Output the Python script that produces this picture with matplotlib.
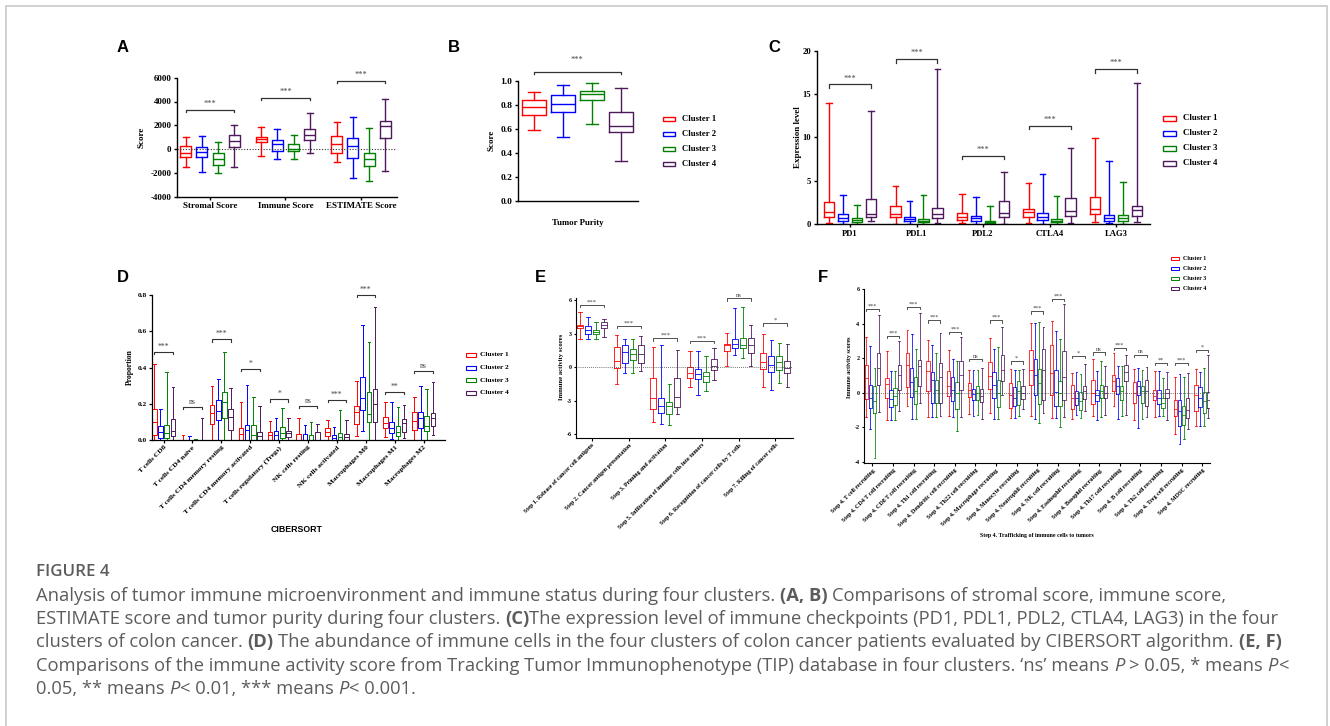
import matplotlib
matplotlib.use("Agg")
import matplotlib.pyplot as plt
from matplotlib.patches import Rectangle
from matplotlib.ticker import FormatStrFormatter

plt.rcParams["axes.unicode_minus"] = False

W, H = 1330, 726

clusters = ["Cluster 1", "Cluster 2", "Cluster 3", "Cluster 4"]
colors = ["#ff0000", "#0000ff", "#008000", "#4e1a5c"]

# each box: [whisker low, q1, median, q3, whisker high], four clusters per category
a_cats = ["Stromal Score", "Immune Score", "ESTIMATE Score"]
a_stats = [
    [[-1500, -700, -300, 300, 1000], [-1900, -700, -250, 200, 1100],
     [-2000, -1300, -800, -350, 600], [-1500, 200, 650, 1200, 2000]],
    [[-550, 600, 850, 1050, 1850], [-800, -150, 400, 800, 1700],
     [-850, -200, 50, 400, 1200], [-300, 800, 1150, 1700, 3000]],
    [[-1100, -300, 450, 1100, 2300], [-2400, -750, 250, 900, 2700],
     [-2650, -1400, -850, -300, 1800], [-1800, 900, 1950, 2400, 4250]],
]
a_sig = ["***", "***", "***"]
a_sig_y = [3300, 4300, 5700]

b_cats = ["Tumor Purity"]
b_stats = [
    [[0.59, 0.72, 0.785, 0.845, 0.905], [0.535, 0.74, 0.805, 0.88, 0.97],
     [0.64, 0.845, 0.89, 0.92, 0.98], [0.33, 0.575, 0.625, 0.745, 0.945]],
]
b_sig = ["***"]
b_sig_y = [1.072]

c_cats = ["PD1", "PDL1", "PDL2", "CTLA4", "LAG3"]
c_stats = [
    [[0.15, 0.85, 1.4, 2.5, 14.0], [0.05, 0.4, 0.75, 1.2, 3.4],
     [0.05, 0.27, 0.45, 0.7, 2.2], [0.3, 0.77, 1.1, 2.85, 13.0]],
    [[0.05, 0.85, 1.2, 2.1, 4.4], [0.05, 0.3, 0.55, 0.8, 2.6],
     [0.05, 0.23, 0.4, 0.6, 3.4], [0.08, 0.65, 1.2, 1.8, 17.9]],
    [[0.1, 0.45, 0.8, 1.3, 3.5], [0.05, 0.35, 0.65, 0.95, 3.15],
     [0.03, 0.15, 0.27, 0.4, 2.05], [0.05, 0.77, 1.3, 2.7, 6.0]],
    [[0.15, 0.8, 1.35, 1.7, 4.7], [0.05, 0.45, 0.77, 1.27, 5.75],
     [0.05, 0.2, 0.4, 0.6, 3.2], [0.15, 0.9, 1.5, 2.95, 8.8]],
    [[0.2, 1.1, 1.75, 3.15, 9.9], [0.08, 0.38, 0.65, 1.0, 7.3],
     [0.05, 0.38, 0.65, 1.05, 4.8], [0.2, 0.95, 1.6, 2.1, 16.3]],
]
c_sig = ["***", "***", "***", "***", "***"]
c_sig_y = [16.1, 19.0, 7.9, 11.35, 17.85]

d_cats = ["T cells CD8", "T cells CD4 naive", "T cells CD4 memory resting",
          "T cells CD4 memory activated", "T cells regulatory (Tregs)",
          "NK cells resting", "NK cells activated", "Macrophages M0",
          "Macrophages M1", "Macrophages M2"]
d_stats = [
    [[0, 0.03, 0.1, 0.17, 0.42], [0, 0.01, 0.045, 0.075, 0.17],
     [0, 0.01, 0.04, 0.085, 0.375], [0, 0.02, 0.05, 0.115, 0.295]],
    [[0, 0, 0, 0, 0.025], [0, 0, 0, 0, 0.02], [0, 0, 0, 0, 0.005], [0, 0, 0, 0, 0.12]],
    [[0, 0.087, 0.15, 0.195, 0.30], [0, 0.11, 0.16, 0.22, 0.335],
     [0, 0.12, 0.21, 0.265, 0.485], [0, 0.055, 0.125, 0.17, 0.285]],
    [[0, 0, 0.035, 0.068, 0.21], [0, 0, 0.055, 0.085, 0.305],
     [0, 0, 0.03, 0.082, 0.235], [0, 0, 0.02, 0.045, 0.19]],
    [[0, 0, 0.028, 0.046, 0.107], [0, 0, 0.03, 0.05, 0.123],
     [0, 0.013, 0.04, 0.074, 0.175], [0, 0.018, 0.04, 0.052, 0.123]],
    [[0, 0, 0, 0.031, 0.12], [0, 0, 0, 0.031, 0.082],
     [0, 0, 0, 0.025, 0.1], [0, 0, 0, 0.042, 0.088]],
    [[0, 0.022, 0.046, 0.064, 0.112], [0, 0, 0.013, 0.028, 0.07],
     [0, 0, 0.018, 0.04, 0.168], [0, 0, 0.015, 0.031, 0.113]],
    [[0.02, 0.087, 0.153, 0.19, 0.325], [0.05, 0.165, 0.23, 0.35, 0.635],
     [0, 0.1, 0.145, 0.263, 0.54], [0, 0.1, 0.2, 0.28, 0.733]],
    [[0.015, 0.064, 0.092, 0.128, 0.21], [0.005, 0.037, 0.068, 0.1, 0.21],
     [0, 0.024, 0.046, 0.079, 0.184], [0.01, 0.046, 0.092, 0.114, 0.193]],
    [[0, 0.055, 0.105, 0.156, 0.24], [0, 0.068, 0.12, 0.153, 0.298],
     [0, 0.05, 0.08, 0.132, 0.28], [0.025, 0.077, 0.12, 0.147, 0.318]],
]
d_sig = ["***", "ns", "***", "*", "*", "ns", "***", "***", "**", "ns"]
d_sig_y = [0.487, 0.184, 0.555, 0.392, 0.224, 0.187, 0.22, 0.8, 0.267, 0.38]

e_cats = ["Step 1. Release of cancer cell antigens", "Step 2. Cancer antigen presentation",
          "Step 3. Priming and activation", "Step 5. Infiltration of immune cells into tumors",
          "Step 6. Recognition of cancer cells by T cells", "Step 7. Killing of cancer cells"]
e_stats = [
    [[2.55, 3.45, 3.65, 3.8, 4.9], [2.5, 3.0, 3.3, 3.7, 4.45],
     [2.55, 2.95, 3.15, 3.35, 4.05], [2.7, 3.5, 3.8, 4.05, 4.3]],
    [[-1.55, -0.12, 0.5, 1.8, 2.9], [-0.55, 0.33, 1.35, 2.0, 2.5],
     [-0.55, 0.63, 1.15, 1.65, 2.55], [-0.35, 0.33, 1.15, 2.0, 2.8]],
    [[-4.9, -3.75, -2.8, -1.0, 1.8], [-5.1, -4.15, -3.45, -2.8, 1.95],
     [-5.2, -4.25, -3.45, -3.15, -1.55], [-4.25, -3.6, -2.65, -1.0, 1.5]],
    [[-1.8, -0.95, -0.5, 0.0, 1.45], [-2.55, -1.07, -0.63, -0.2, 1.45],
     [-2.15, -1.3, -0.78, -0.42, 1.0], [-1.15, -0.27, 0.08, 0.7, 1.73]],
    [[0.12, 1.45, 1.95, 2.1, 3.05], [1.05, 1.73, 2.1, 2.48, 5.3],
     [0.78, 1.67, 2.0, 2.6, 5.4], [0.09, 1.3, 1.97, 2.63, 3.75]],
    [[-1.75, -0.2, 0.42, 1.22, 2.95], [-2.05, -0.48, 0.18, 1.0, 2.4],
     [-1.45, -0.27, 0.48, 1.0, 2.17], [-1.75, -0.57, -0.12, 0.54, 2.1]],
]
e_sig = ["***", "***", "***", "***", "ns", "*"]
e_sig_y = [5.55, 3.67, 2.57, 2.33, 6.15, 3.9]

f_cats = ["Step 4. T cell recruiting", "Step 4. CD4 T cell recruiting",
          "Step 4. CD8 T cell recruiting", "Step 4. Th1 cell recruiting",
          "Step 4. Dendritic cell recruiting", "Step 4. Th22 cell recruiting",
          "Step 4. Macrophage recruiting", "Step 4. Monocyte recruiting",
          "Step 4. Neutrophil recruiting", "Step 4. NK cell recruiting",
          "Step 4. Eosinophil recruiting", "Step 4. Basophil recruiting",
          "Step 4. Th17 cell recruiting", "Step 4. B cell recruiting",
          "Step 4. Th2 cell recruiting", "Step 4. Treg cell recruiting",
          "Step 4. MDSC recruiting"]
f_stats = [
    [[-1.4, -0.37, 0.85, 1.6, 3.2], [-2.08, -0.9, -0.3, 0.46, 2.68],
     [-3.78, -1.18, -0.5, 0.37, 1.43], [-1.12, 0.46, 1.43, 2.3, 4.5]],
    [[-1.56, -0.3, 0.5, 0.88, 2.43], [-1.56, -0.8, -0.37, 0.17, 1.27],
     [-1.56, -0.73, -0.2, 0.27, 1.27], [-1.08, 0.17, 1.04, 1.62, 3.0]],
    [[-0.79, 0.33, 1.6, 2.29, 3.64], [-1.52, -0.27, 0.6, 1.46, 3.41],
     [-1.52, -0.66, 0.08, 0.89, 2.52], [-0.6, 0.37, 1.52, 1.9, 4.6]],
    [[-1.43, 0.08, 1.23, 1.81, 3.03], [-1.43, -0.6, 0.75, 1.19, 2.77],
     [-1.41, -0.6, 0.17, 0.75, 2.29], [-1.37, -0.6, 0.89, 1.71, 3.45]],
    [[-1.33, -0.21, 0.37, 1.23, 2.45], [-1.41, -0.5, 0.17, 0.89, 1.97],
     [-2.2, -0.92, 0.0, 0.6, 1.81], [-1.41, 0.17, 1.04, 1.85, 3.22]],
    [[-1.23, -0.25, 0.17, 0.56, 1.33], [-1.37, -0.44, -0.06, 0.21, 1.33],
     [-1.31, -0.44, 0.0, 0.37, 1.33], [-1.52, -0.54, -0.2, 0.21, 1.43]],
    [[-1.18, 0.21, 0.94, 1.75, 3.16], [-1.52, -0.31, 0.46, 1.19, 2.52],
     [-1.52, -0.83, 0.0, 0.71, 2.64], [-0.12, 0.69, 1.33, 2.2, 3.83]],
    [[-1.46, -0.89, -0.12, 0.56, 1.37], [-1.46, -0.79, -0.31, 0.31, 1.33],
     [-1.37, -0.69, 0.12, 0.69, 1.33], [-0.92, -0.37, 0.0, 0.4, 1.37]],
    [[-1.33, 0.46, 1.33, 2.45, 4.03], [-1.52, -0.12, 1.04, 1.97, 4.03],
     [-1.75, -0.64, 0.56, 1.37, 4.12], [-1.18, -0.44, 1.33, 2.52, 3.83]],
    [[-1.46, -0.12, 1.14, 2.77, 4.16], [-1.46, -0.79, 0.04, 1.29, 3.58],
     [-1.98, -0.79, 0.0, 0.69, 3.1], [-1.41, -0.44, 0.9, 2.39, 5.14]],
    [[-1.52, -0.92, -0.3, 0.46, 1.14], [-1.31, -0.69, -0.3, 0.08, 1.18],
     [-1.46, -1.02, -0.5, 0.04, 1.08], [-1.08, -0.37, 0.08, 0.37, 1.66]],
    [[-1.37, -0.64, 0.0, 0.71, 1.97], [-1.56, -0.5, -0.15, 0.17, 1.23],
     [-1.43, -0.31, 0.12, 0.46, 1.81], [-1.31, -0.31, 0.0, 0.37, 1.56]],
    [[-0.79, 0.12, 0.66, 1.04, 2.29], [-1.52, -0.08, 0.37, 0.85, 1.52],
     [-1.37, -0.44, 0.08, 0.4, 1.56], [-1.27, 0.66, 1.19, 1.62, 2.2]],
    [[-1.6, -0.6, 0.0, 0.62, 1.39], [-2.04, -0.12, 0.4, 0.69, 1.43],
     [-1.52, -0.6, 0.08, 0.4, 1.33], [-1.43, -0.79, 0.08, 0.71, 1.48]],
    [[-1.41, -0.44, -0.2, 0.17, 1.27], [-1.37, -0.64, -0.3, 0.17, 1.23],
     [-1.37, -0.89, -0.6, -0.3, 0.85], [-1.6, -0.31, 0.0, 0.21, 1.18]],
    [[-2.39, -1.37, -0.94, -0.44, 0.9], [-2.97, -1.95, -1.04, -0.44, 1.1],
     [-2.66, -1.85, -1.27, -0.79, 0.9], [-2.08, -1.46, -0.98, -0.31, 1.14]],
    [[-1.91, -1.08, -0.12, 0.42, 1.37], [-1.91, -0.85, -0.3, 0.31, 1.19],
     [-1.91, -1.18, -0.5, 0.04, 1.43], [-1.46, -0.89, -0.4, 0.04, 2.2]],
]
f_sig = ["***", "***", "***", "***", "***", "ns", "***", "*", "***", "***",
         "*", "ns", "***", "ns", "**", "***", "*"]
f_sig_y = [4.84, 3.26, 4.95, 4.18, 3.51, 1.95, 4.18, 1.81, 4.7, 5.41,
           2.14, 2.33, 2.58, 2.2, 1.71, 1.71, 2.45]

caption_lines = [
    [("Analysis of tumor immune microenvironment and immune status during four clusters. ", "n"),
     ("(A, B)", "b"), (" Comparisons of stromal score, immune score,", "n")],
    [("ESTIMATE score and tumor purity during four clusters. ", "n"), ("(C)", "b"),
     ("The expression level of immune checkpoints (PD1, PDL1, PDL2, CTLA4, LAG3) in the four", "n")],
    [("clusters of colon cancer. ", "n"), ("(D)", "b"),
     (" The abundance of immune cells in the four clusters of colon cancer patients evaluated by CIBERSORT algorithm. ", "n"),
     ("(E, F)", "b")],
    [("Comparisons of the immune activity score from Tracking Tumor Immunophenotype (TIP) database in four clusters. \u2018ns\u2019 means ", "n"),
     ("P", "i"), (" > 0.05, * means ", "n"), ("P", "i"), ("<", "n")],
    [("0.05, ** means ", "n"), ("P", "i"), ("< 0.01, *** means ", "n"), ("P", "i"), ("< 0.001.", "n")],
]

SERIF = "Liberation Serif"
SANS = "Liberation Sans"

fig = plt.figure(figsize=(W / 100, H / 100), dpi=100)
fig.patch.set_facecolor("white")


def px_axes(x0, y0, x1, y1):
    return fig.add_axes([x0 / W, 1 - y1 / H, (x1 - x0) / W, (y1 - y0) / H])


def style_axes(ax, fs, lw, tl):
    for s in ["top", "right"]:
        ax.spines[s].set_visible(False)
    for s in ["left", "bottom"]:
        ax.spines[s].set_linewidth(lw)
    ax.tick_params(direction="out", length=tl, width=lw, labelsize=fs, pad=1.5)
    for lab in ax.get_yticklabels() + ax.get_xticklabels():
        lab.set_fontfamily(SERIF)
        lab.set_fontweight("bold")


def draw_boxes(ax, stats, step, width, lw, capw=0.55):
    for i, group in enumerate(stats):
        for j, s in enumerate(group):
            d = dict(whislo=s[0], q1=s[1], med=s[2], q3=s[3], whishi=s[4], fliers=[])
            p = dict(color=colors[j], linewidth=lw)
            ax.bxp([d], positions=[i + (j - 1.5) * step], widths=width,
                   capwidths=width * capw, showfliers=False, manage_ticks=False,
                   boxprops=p, whiskerprops=p, capprops=p, medianprops=p)


def brackets(ax, sigs, ys, step, tick, fs, lw, pad):
    for i, (lab, y) in enumerate(zip(sigs, ys)):
        x0, x1 = i - 1.5 * step, i + 1.5 * step
        ax.plot([x0, x0, x1, x1], [y - tick, y, y, y - tick], color="#333333",
                lw=lw, clip_on=False)
        ax.annotate(lab, xy=(i, y), xytext=(0, pad), textcoords="offset points",
                    ha="center", va="bottom", fontsize=fs, color="#444444",
                    family=SERIF, annotation_clip=False)


def legend(x, y, dy, rw, rh, gap, fs, lw):
    for j in range(4):
        yy = y + j * dy
        fig.add_artist(Rectangle((x / W, 1 - (yy + rh / 2) / H), rw / W, rh / H,
                                 transform=fig.transFigure, fill=False,
                                 ec=colors[j], lw=lw))
        fig.text((x + rw + gap) / W, 1 - yy / H, clusters[j], fontsize=fs,
                 family=SERIF, weight="bold", va="center", ha="left")


def ftext(x, y, s, **kw):
    return fig.text(x / W, 1 - y / H, s, **kw)


# ---------- A ----------
axA = px_axes(177, 77.7, 397, 196.7)
draw_boxes(axA, a_stats, 0.215, 0.146, 1.0)
axA.set_xlim(-0.437, 2.477)
axA.set_ylim(-4000, 6000)
axA.set_yticks(range(-4000, 6001, 2000))
axA.set_xticks(range(len(a_cats)))
axA.set_xticklabels(a_cats)
axA.axhline(0, color="#333333", lw=0.8, ls=(0, (1, 1.5)))
style_axes(axA, 6.5, 1.0, 2.5)
brackets(axA, a_sig, a_sig_y, 0.215, 150, 6, 0.9, 1.5)
ftext(142, 137, "Score", rotation=90, ha="center", va="center", fontsize=6.5,
      family=SERIF, weight="bold")

# ---------- B ----------
axB = px_axes(517.7, 81, 638, 200.7)
draw_boxes(axB, b_stats, 1.0, 0.85, 1.0, capw=0.5)
axB.set_xlim(-2.06, 2.09)
axB.set_ylim(0, 1.0)
axB.set_yticks([0, 0.2, 0.4, 0.6, 0.8, 1.0])
axB.yaxis.set_major_formatter(FormatStrFormatter("%.1f"))
axB.set_xticks([])
style_axes(axB, 6.8, 1.0, 2.5)
brackets(axB, b_sig, b_sig_y, 1.0, 0.015, 6, 0.9, 6)
ftext(578, 223, b_cats[0], ha="center", va="center", fontsize=6.3, family=SERIF,
      weight="bold")
ftext(492, 140, "Score", rotation=90, ha="center", va="center", fontsize=6.5,
      family=SERIF, weight="bold")
legend(663, 119, 15, 12, 4.5, 7, 6.3, 1.0)

# ---------- C ----------
axC = px_axes(817, 50.7, 1150, 224)
draw_boxes(axC, c_stats, 0.21, 0.158, 1.0)
axC.set_xlim(-0.496, 4.51)
axC.set_ylim(0, 20)
axC.set_yticks([0, 5, 10, 15, 20])
axC.set_xticks(range(len(c_cats)))
axC.set_xticklabels(c_cats)
style_axes(axC, 6.2, 1.0, 2.5)
brackets(axC, c_sig, c_sig_y, 0.21, 0.4, 6, 0.9, 1.5)
ftext(798, 137, "Expression level", rotation=90, ha="center", va="center",
      fontsize=6.5, family=SERIF, weight="bold")
legend(1163, 118.3, 15, 12.5, 4.5, 7.5, 6.4, 1.0)

# ---------- D ----------
axD = px_axes(152, 295, 445, 440)
draw_boxes(axD, d_stats, 0.215, 0.16, 0.7)
axD.set_xlim(-0.4, 9.74)
axD.set_ylim(0, 0.8)
axD.set_yticks([0, 0.2, 0.4, 0.6, 0.8])
axD.yaxis.set_major_formatter(FormatStrFormatter("%.1f"))
axD.set_xticks(range(len(d_cats)))
axD.set_xticklabels(d_cats, rotation=45, ha="right", rotation_mode="anchor")
style_axes(axD, 5.3, 0.9, 2.0)
brackets(axD, d_sig, d_sig_y, 0.215, 0.012, 5.5, 0.8, 0.8)
ftext(130, 367, "Proportion", rotation=90, ha="center", va="center", fontsize=5.5,
      family=SERIF, weight="bold")
ftext(297, 530, "CIBERSORT", ha="center", va="center", fontsize=6.3, family=SANS,
      weight="bold")
legend(466, 355, 12.6, 10, 4.2, 4.5, 5.3, 0.8)

# ---------- E ----------
axE = px_axes(576, 297.8, 793, 437.9)
draw_boxes(axE, e_stats, 0.218, 0.16, 0.6)
axE.set_xlim(-0.436, 5.48)
axE.set_ylim(-6.35, 6.2)
axE.set_yticks([-6, -3, 0, 3, 6])
axE.set_xticks(range(len(e_cats)))
axE.set_xticklabels(e_cats, rotation=45, ha="right", rotation_mode="anchor")
axE.axhline(0, color="#444444", lw=0.6, ls=(0, (1, 1.5)))
style_axes(axE, 4.3, 0.8, 1.8)
brackets(axE, e_sig, e_sig_y, 0.218, 0.2, 4.8, 0.6, 0.5)
ftext(562, 367, "Immune activity scores", rotation=90, ha="center", va="center",
      fontsize=4.8, family=SERIF, weight="bold")

# ---------- F ----------
axF = px_axes(864, 289, 1210, 463.3)
draw_boxes(axF, f_stats, 0.2, 0.16, 0.55)
axF.set_xlim(-0.41, 16.38)
axF.set_ylim(-4.08, 6.0)
axF.set_yticks([-4, -2, 0, 2, 4, 6])
axF.set_xticks(range(len(f_cats)))
axF.set_xticklabels(f_cats, rotation=45, ha="right", rotation_mode="anchor")
axF.axhline(0, color="#444444", lw=0.6, ls=(0, (1, 1.5)))
style_axes(axF, 4.3, 0.8, 1.8)
brackets(axF, f_sig, f_sig_y, 0.2, 0.12, 4.5, 0.6, 0.3)
ftext(849, 367, "Immune activity scores", rotation=90, ha="center", va="center",
      fontsize=4.4, family=SERIF, weight="bold")
ftext(1037, 536, "Step 4. Trafficking of immune cells to tumors", ha="center",
      va="center", fontsize=4.2, family=SERIF, weight="bold")
legend(1171, 258.3, 10, 7.5, 3.5, 4.5, 4.3, 0.7)

# ---------- panel letters ----------
for lab, x, y in [("A", 117, 48), ("B", 448, 48), ("C", 768, 48),
                  ("D", 117, 277), ("E", 535, 277), ("F", 818, 277)]:
    ftext(x, y, lab, fontsize=12, family=SANS, weight="bold", ha="left", va="center")

# ---------- frame ----------
fig.add_artist(Rectangle((6 / W, -0.1), 1321 / W, 1 - 6 / H + 0.1,
                         transform=fig.transFigure, fill=False, ec="#c8c8c8", lw=1.2))

# ---------- caption ----------
CAP = "Open Sans"
cap_color = "#5c5c5c"
renderer = fig.canvas.get_renderer()


def seg_props(st, fs):
    return dict(fontsize=fs, family=CAP, color=cap_color,
                weight="bold" if st == "b" else "normal",
                style="italic" if st == "i" else "normal")


def space_w(fs):
    t1 = fig.text(0, 0, "x x", **seg_props("n", fs))
    t2 = fig.text(0, 0, "xx", **seg_props("n", fs))
    w = t1.get_window_extent(renderer).width - t2.get_window_extent(renderer).width
    t1.remove()
    t2.remove()
    return w


def draw_line(x, y, segs, fs, sw, draw=True):
    for txt, st in segs:
        lead = len(txt) - len(txt.lstrip(" "))
        trail = len(txt) - len(txt.rstrip(" "))
        core = txt.strip(" ")
        x += lead * sw
        t = fig.text(x / W, 1 - y / H, core, va="center", ha="left", **seg_props(st, fs))
        x += t.get_window_extent(renderer).width + trail * sw
        if not draw:
            t.remove()
    return x


# fit caption size so the first line spans the same width as the reference
fs0 = 12.0
end0 = draw_line(36, 596, caption_lines[0], fs0, space_w(fs0), draw=False)
cap_fs = fs0 * (1216 - 36) / (end0 - 36)
sw = space_w(cap_fs)
ftext(36, 572, "FIGURE 4", fontsize=cap_fs * 0.92, family=CAP, weight="semibold",
      color=cap_color, va="center")
for k, segs in enumerate(caption_lines):
    draw_line(36, 596 + 23.2 * k, segs, cap_fs, sw)

fig.savefig("out.png", dpi=100, facecolor="white")
